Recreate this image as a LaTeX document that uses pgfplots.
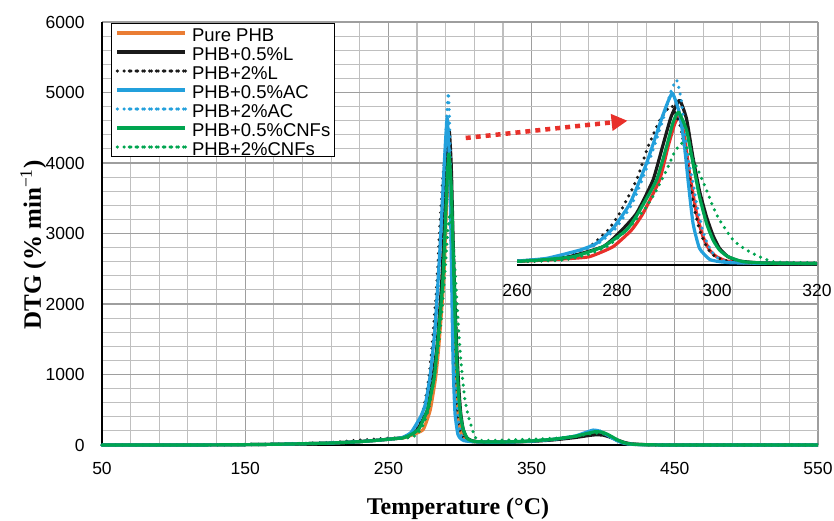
\documentclass[border=0pt]{standalone}
\usepackage{pgfplots}
\pgfplotsset{compat=1.18}
\usepackage{pgfplotstable}
\usepackage{fontspec}
\setmainfont{Liberation Serif}
\newfontfamily\arial{Liberation Sans}
\usetikzlibrary{arrows.meta}

\definecolor{cOrange}{RGB}{234,125,52}
\definecolor{cBlack}{RGB}{26,26,26}
\definecolor{cBlue}{RGB}{35,160,220}
\definecolor{cGreen}{RGB}{0,165,80}
\definecolor{cRed}{RGB}{232,48,42}

\pgfplotsset{
  solidc/.style={line width=3.2pt, line join=round, smooth, tension=0.3},
  dotc/.style={line width=3.5pt, line cap=round, dash pattern=on 0pt off 6.8pt, smooth, tension=0.3},
}

\pgfplotstableread{
T v
50 0
100 0
130 2
150 5
170 10
190 18
210 28
230 48
245 72
255 92
260 98
265 130
270 170
274.5 225
279.2 495
282.9 946
285.2 1396
288.5 2297
290.2 3198
291.5 3800
292.5 4030
293.5 3470
294.5 2477
295.9 1396
297.2 766
298.5 405
299.9 225
301.9 108
305 60
310 45
315 40
330 40
350 55
365 78
380 115
390 160
395 172
400 162
405 120
410 65
415 28
420 12
430 4
450 0
500 0
550 0
}\tPure

\pgfplotstableread{
T v
50 0
100 0
130 2
150 5
170 10
190 18
210 28
230 48
245 72
255 92
260 105
265 150
270 210
277.2 495
280.5 880
283.9 1396
287.2 2297
289.1 3198
290.8 4000
292.5 4450
293.9 3950
295.2 2900
296.5 2000
297.9 1300
299.2 800
300.5 450
302.2 225
304.5 108
307.9 63
312 48
320 42
335 42
350 52
365 72
380 105
390 135
395 145
400 140
405 110
410 70
415 35
420 15
430 5
450 0
550 0
}\tLa

\pgfplotstableread{
T v
50 0
100 0
130 2
150 6
170 12
190 22
210 35
225 60
240 82
250 95
260 100
264.5 110
269.9 225
274.5 495
278.2 946
280.5 1396
283.9 2297
286.2 3198
288.5 3900
290 4200
291 4300
292.5 3829
293.5 3198
294.5 2297
295.5 1486
296.5 946
297.9 495
299.2 270
301.2 135
304 70
310 50
320 45
335 48
350 60
365 82
380 120
390 150
395 160
400 150
405 110
410 65
415 30
420 12
430 4
450 0
550 0
}\tLb

\pgfplotstableread{
T v
50 0
100 0
130 2
150 5
170 10
190 18
210 28
230 48
245 72
255 92
260 108
265.9 180
272.6 405
275.9 586
279.2 991
282.6 1667
285.9 2750
288.6 3830
290 4350
291.1 4640
292.5 4099
293.5 3198
294.2 2297
295.2 1126
296.5 450
298.5 153
300.5 90
303 60
310 45
320 40
335 42
350 55
365 80
380 125
388 180
393 212
397 200
402 150
407 90
412 40
417 15
425 5
450 0
550 0
}\tACa

\pgfplotstableread{
T v
50 0
100 0
130 2
150 5
170 10
190 18
210 28
230 48
245 72
255 92
260 100
266 170
272.6 380
276 560
279.5 950
283 1650
286.3 2750
289 3850
290.7 4650
291.9 5000
292.8 4500
293.5 3700
294.3 2800
295.1 2297
296 1600
297.1 946
298 600
299.2 315
300.5 160
302 90
305 55
310 45
320 40
335 45
350 58
365 82
380 125
390 180
394 205
398 195
403 145
408 85
413 38
418 14
425 5
450 0
550 0
}\tACb

\pgfplotstableread{
T v
50 0
100 0
130 2
150 5
170 10
190 18
210 28
230 48
245 72
255 92
260 100
265 140
271.2 225
277.2 495
281.9 946
284.2 1396
287.9 2297
289.9 3198
291.2 3850
292.3 4130
293.9 3649
295.2 2748
296.5 1847
297.9 1126
299.2 676
300.5 405
302.2 225
305.2 90
310 50
320 42
335 45
350 58
365 82
380 122
390 170
395 190
400 178
405 130
410 72
415 30
420 12
430 4
450 0
550 0
}\tCNFa

\pgfplotstableread{
T v
50 0
100 0
130 2
150 5
170 10
190 18
210 28
230 48
245 72
255 90
260 95
265 110
269.2 135
273.9 270
277.9 495
280.5 766
283.2 1126
285.9 1577
287.9 2027
289.9 2568
291.5 3050
292.9 3290
294 3150
295.9 2658
297.9 2027
299.2 1577
300.5 1216
303.2 676
305.9 405
308.5 225
311.2 90
315 65
325 65
340 75
355 85
370 100
380 120
390 155
395 170
400 160
405 120
410 65
415 28
420 10
430 3
450 0
550 0
}\tCNFb

\newcommand\lstrut{\rule[-4.7pt]{0pt}{22.2pt}}

\begin{document}
\begin{tikzpicture}
\useasboundingbox (-102pt,-75pt) rectangle (732pt,445pt);
\begin{axis}[
  at={(0pt,0pt)}, anchor=south west,
  width=716pt, height=423pt, scale only axis,
  xmin=50, xmax=550, ymin=0, ymax=6000,
  xtick={50,150,...,550}, ytick={0,1000,...,6000},
  minor x tick num=4, minor y tick num=4,
  grid=both,
  major grid style={draw=black!38, line width=1.1pt},
  minor grid style={draw=black!25, line width=1.1pt},
  axis x line=bottom, axis y line=left,
  axis line style={-, black, line width=1.2pt},
  tick style={draw=none},
  ticklabel style={font=\arial\fontsize{17.5}{20}\selectfont},
  /pgf/number format/assume math mode=true,
  /pgf/number format/set thousands separator={},
  xticklabel style={inner sep=0pt, anchor=north, yshift=-15pt},
  yticklabel style={inner sep=0pt, anchor=east, xshift=-15pt},
  clip=false,
  legend style={at={(axis description cs:0.0126,0.9976)}, anchor=north west,
    draw=black, line width=1pt, fill=white, inner xsep=4pt, inner ysep=0pt,
    row sep=0pt, column sep=5pt, nodes={inner sep=0pt},
    font=\arial\fontsize{18.5}{20}\selectfont},
  legend cell align=left,
  legend image code/.code={\path (-12pt,0pt) -- (56pt,0pt); \draw[#1] (0pt,0pt) -- (56pt,0pt);},
]
\addplot[solidc, color=cOrange] table {\tPure};
\addlegendentry{\lstrut Pure PHB}
\addplot[solidc, color=cBlack] table {\tLa};
\addlegendentry{\lstrut PHB+0.5\%L}
\addplot[dotc, color=cBlack] table {\tLb};
\addlegendentry{\lstrut PHB+2\%L}
\addplot[solidc, color=cBlue] table {\tACa};
\addlegendentry{\lstrut PHB+0.5\%AC}
\addplot[dotc, color=cBlue] table {\tACb};
\addlegendentry{\lstrut PHB+2\%AC}
\addplot[solidc, color=cGreen] table {\tCNFa};
\addlegendentry{\lstrut PHB+0.5\%CNFs}
\addplot[dotc, color=cGreen] table {\tCNFb};
\addlegendentry{\lstrut PHB+2\%CNFs}
\draw[line width=4.5pt, color=cRed, dash pattern=on 5pt off 5pt, -{Triangle[length=16pt,width=16pt]}]
  (axis cs:304,4355) -- (axis cs:417,4600);
\end{axis}

\begin{axis}[
  at={(415pt,180pt)}, anchor=south west,
  width=300pt, height=192.4pt, scale only axis,
  xmin=260, xmax=320, ymin=0, ymax=5200,
  axis x line=bottom, axis y line=none,
  axis line style={-, black, line width=1.3pt},
  xtick={260,280,300,320},
  tick style={draw=none},
  ticklabel style={font=\arial\fontsize{17.5}{20}\selectfont},
  /pgf/number format/assume math mode=true,
  xticklabel style={inner sep=0pt, anchor=north, yshift=-17pt},
]
\addplot[solidc, color=cRed] table {\tPure};
\addplot[solidc, color=cBlack] table {\tLa};
\addplot[dotc, color=cBlack] table {\tLb};
\addplot[solidc, color=cBlue] table {\tACa};
\addplot[dotc, color=cBlue] table {\tACb};
\addplot[solidc, color=cGreen] table {\tCNFa};
\addplot[dotc, color=cGreen] table {\tCNFb};
\end{axis}

\node[font=\bfseries\fontsize{24}{26}\selectfont, anchor=base] at (356pt,-69pt) {Temperature (°C)};
\node[rotate=90, anchor=base, font=\bfseries\fontsize{25}{27}\selectfont] at (-61pt,200pt) {DTG (\% min\textsuperscript{\normalfont −1})};
\end{tikzpicture}
\end{document}
